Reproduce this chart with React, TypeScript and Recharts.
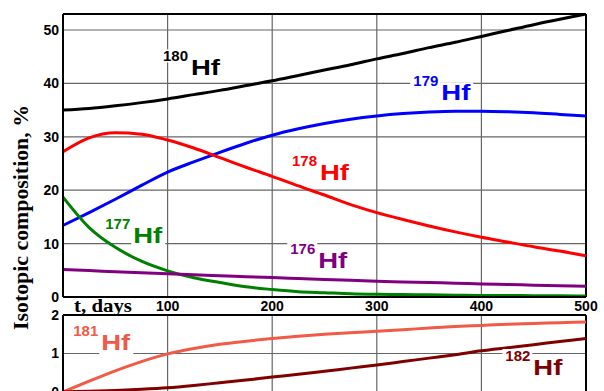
import React from 'react';
import { LineChart, Line, XAxis, YAxis, CartesianGrid, ReferenceLine, ReferenceDot } from 'recharts';

// time axis, days
const days = [0, 25, 50, 75, 100, 125, 150, 175, 200, 225, 250, 275, 300, 325, 350, 375, 400, 425, 450, 475, 500];

// upper panel, isotopic composition %
const hf180 = [35.0, 35.3, 35.8, 36.4, 37.1, 37.9, 38.7, 39.6, 40.5, 41.5, 42.5, 43.5, 44.6, 45.6, 46.7, 47.7, 48.8, 49.9, 51.0, 52.0, 53.0];
const hf179 = [13.4, 15.8, 18.3, 20.9, 23.4, 25.3, 27.1, 28.8, 30.3, 31.5, 32.5, 33.3, 33.9, 34.35, 34.65, 34.8, 34.8, 34.7, 34.5, 34.2, 33.9];
const hf178 = [27.2, 29.8, 30.75, 30.5, 29.4, 27.9, 26.1, 24.3, 22.6, 20.8, 19.1, 17.3, 15.8, 14.5, 13.3, 12.2, 11.2, 10.3, 9.4, 8.6, 7.7];
const hf177 = [18.7, 13.0, 9.3, 6.7, 4.9, 3.6, 2.7, 1.9, 1.4, 1.0, 0.8, 0.6, 0.5, 0.45, 0.4, 0.35, 0.3, 0.3, 0.25, 0.25, 0.2];
const hf176 = [5.13, 4.94, 4.75, 4.56, 4.37, 4.18, 3.99, 3.81, 3.63, 3.46, 3.3, 3.12, 2.94, 2.82, 2.7, 2.58, 2.45, 2.33, 2.22, 2.11, 2.0];

// lower panel
const hf181 = [0, 0.28, 0.55, 0.79, 0.99, 1.13, 1.24, 1.32, 1.39, 1.45, 1.5, 1.54, 1.58, 1.62, 1.66, 1.7, 1.73, 1.76, 1.78, 1.8, 1.82];
const hf182 = [0, 0.02, 0.04, 0.07, 0.11, 0.17, 0.24, 0.31, 0.39, 0.46, 0.54, 0.62, 0.7, 0.79, 0.88, 0.97, 1.07, 1.15, 1.23, 1.31, 1.39];

const topTicks = [0, 10, 20, 30, 40, 50];
const lowTicks = [0, 1, 2];
const dayTicks = [0, 100, 200, 300, 400, 500];

// curve labels: mass number, anchor day, anchor value
const topMass = ['180', '179', '178', '177', '176'];
const topLabelDay = [95.6, 334.9, 218.9, 40.4, 217.3];
const topLabelPct = [41.5, 36.97, 22.0, 10.05, 5.43];
const topColors = ['#000000', '#0000ff', '#ff0000', '#008000', '#800080'];

const lowMass = ['181', '182'];
const lowLabelDay = [9.8, 422.9];
const lowLabelPct = [1.09, 0.44];
const lowColors = ['#f05a46', '#800000'];

const topData = days.map((t, i) => ({ t, hf180: hf180[i], hf179: hf179[i], hf178: hf178[i], hf177: hf177[i], hf176: hf176[i] }));
const lowData = days.map((t, i) => ({ t, hf181: hf181[i], hf182: hf182[i] }));

const sans = '"Liberation Sans", Arial, sans-serif';
const serif = '"Liberation Serif", "Times New Roman", serif';
const gridColor = '#666';

// white patches only behind the glyphs, so grid lines break but curves don't
const IsoLabel = ({ cx, cy, mass, color }: any) => (
  <g>
    <rect x={cx - 3} y={cy - 26} width={30} height={13} fill="#fff" />
    <rect x={cx + 26} y={cy - 17} width={34} height={22} fill="#fff" />
    <text x={cx} y={cy - 14} fontSize={15} fontWeight="bold" fontFamily={sans} fill={color}>{mass}</text>
    <text x={cx + 28} y={cy} fontSize={22} fontWeight="bold" fontFamily={sans} fill={color}
      textLength={29} lengthAdjust="spacingAndGlyphs">Hf</text>
  </g>
);

const DayTick = ({ x, y, payload }: any) => {
  if (payload.value === 0) {
    return (
      <text x={x + 11} y={y + 15} fontSize={19} fontWeight="bold" fontFamily={serif} fill="#000"
        textLength={58} lengthAdjust="spacingAndGlyphs">t, days</text>
    );
  }
  return (
    <text x={x} y={y + 14} textAnchor="middle" fontSize={14} fontWeight="bold" fontFamily={sans} fill="#000">
      {payload.value}
    </text>
  );
};

const yTick = { fontSize: 14, fontWeight: 'bold', fill: '#000', fontFamily: sans };

export default function App() {
  return (
    <div style={{ position: 'absolute', left: 0, top: 0, width: 604, height: 391, background: '#fff', overflow: 'hidden' }}>
      <div style={{ position: 'absolute', left: 0, top: 0 }}>
        <LineChart width={604} height={320} data={topData} margin={{ top: 14, right: 18, bottom: 0, left: 0 }}>
          <CartesianGrid stroke={gridColor} strokeWidth={1.2} />
          <XAxis dataKey="t" type="number" domain={[0, 500]} ticks={dayTicks} height={23}
            axisLine={{ stroke: '#000', strokeWidth: 2 }} tickLine={false} tickSize={0} tickMargin={0} tick={<DayTick />} />
          <YAxis type="number" domain={[0, 53]} ticks={topTicks} width={63} allowDataOverflow
            axisLine={{ stroke: '#000', strokeWidth: 2 }} tickLine={false} tickSize={0} tickMargin={4} tick={yTick} />
          <ReferenceLine y={53} stroke="#000" strokeWidth={2} />
          <ReferenceLine x={500} stroke="#000" strokeWidth={2} />
          <Line type="monotone" dataKey="hf180" stroke={topColors[0]} strokeWidth={3} dot={false} isAnimationActive={false} />
          <Line type="monotone" dataKey="hf179" stroke={topColors[1]} strokeWidth={3} dot={false} isAnimationActive={false} />
          <Line type="monotone" dataKey="hf178" stroke={topColors[2]} strokeWidth={3} dot={false} isAnimationActive={false} />
          <Line type="monotone" dataKey="hf177" stroke={topColors[3]} strokeWidth={3} dot={false} isAnimationActive={false} />
          <Line type="monotone" dataKey="hf176" stroke={topColors[4]} strokeWidth={3} dot={false} isAnimationActive={false} />
          {topMass.map((m, i) => (
            <ReferenceDot key={m} x={topLabelDay[i]} y={topLabelPct[i]} r={1}
              shape={(p: any) => <IsoLabel cx={p.cx} cy={p.cy} mass={m} color={topColors[i]} />} />
          ))}
        </LineChart>
      </div>
      <div style={{ position: 'absolute', left: 0, top: 300 }}>
        <LineChart width={604} height={100} data={lowData} margin={{ top: 15, right: 18, bottom: 8, left: 0 }}>
          <CartesianGrid stroke={gridColor} strokeWidth={1.2} />
          <XAxis dataKey="t" type="number" domain={[0, 500]} ticks={dayTicks} hide />
          <YAxis type="number" domain={[0, 2]} ticks={lowTicks} width={63}
            axisLine={{ stroke: '#000', strokeWidth: 2 }} tickLine={false} tickSize={0} tickMargin={4} tick={yTick} />
          <ReferenceLine y={2} stroke="#000" strokeWidth={2} />
          <ReferenceLine x={500} stroke="#000" strokeWidth={2} />
          <Line type="monotone" dataKey="hf181" stroke={lowColors[0]} strokeWidth={3} dot={false} isAnimationActive={false} />
          <Line type="monotone" dataKey="hf182" stroke={lowColors[1]} strokeWidth={3} dot={false} isAnimationActive={false} />
          {lowMass.map((m, i) => (
            <ReferenceDot key={m} x={lowLabelDay[i]} y={lowLabelPct[i]} r={1}
              shape={(p: any) => <IsoLabel cx={p.cx} cy={p.cy} mass={m} color={lowColors[i]} />} />
          ))}
        </LineChart>
      </div>
      <svg width={40} height={391} style={{ position: 'absolute', left: 0, top: 0 }}>
        <text transform="translate(28,217.5) rotate(-90)" textAnchor="middle" fontSize={20} fontWeight="bold"
          fontFamily={serif} fill="#000" textLength={225} lengthAdjust="spacingAndGlyphs">
          Isotopic composition, %
        </text>
      </svg>
    </div>
  );
}
